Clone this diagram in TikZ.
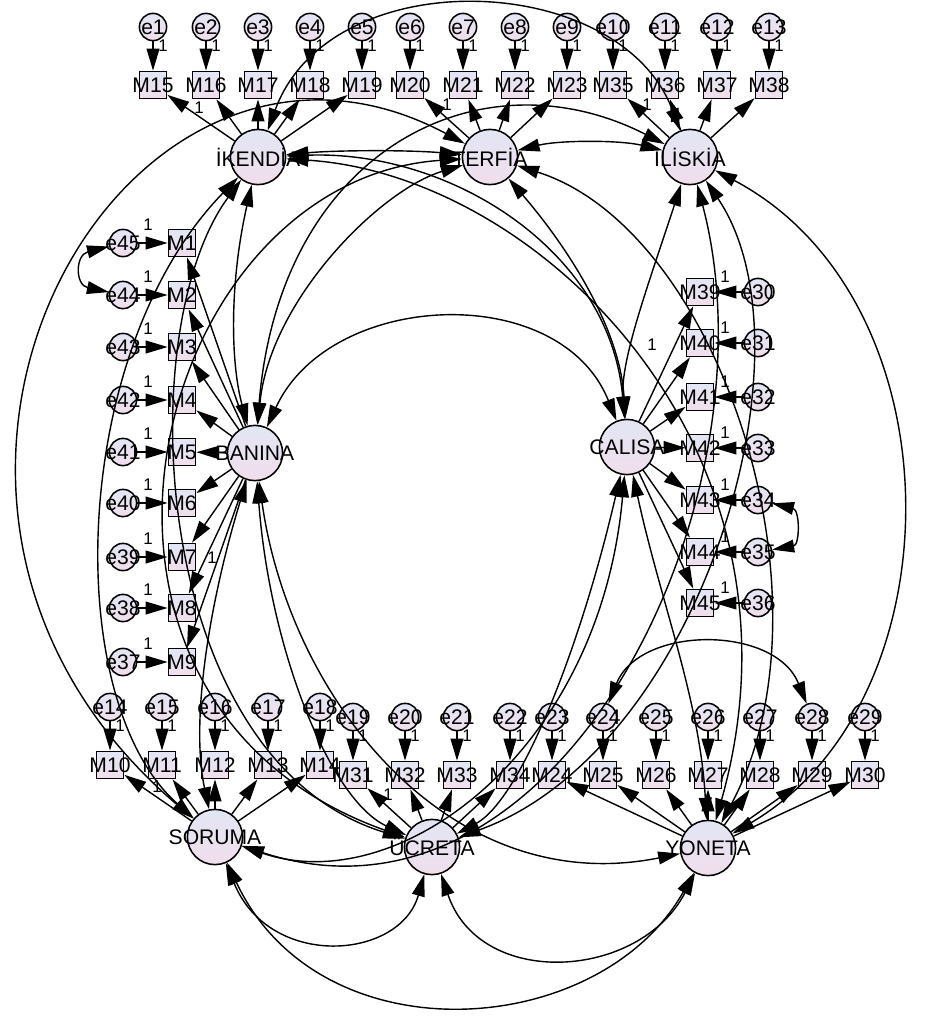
\documentclass[tikz,border=0pt]{standalone}
\usepackage{fontspec}
\setmainfont{Liberation Sans}
\usetikzlibrary{arrows.meta}
\definecolor{lavtop}{RGB}{226,230,244}
\definecolor{lavbot}{RGB}{241,222,236}
\tikzset{
  lat/.style={circle,draw,line width=1.1pt,minimum size=1.38cm,inner sep=0pt,top color=lavtop,bottom color=lavbot},
  err/.style={circle,draw,line width=1.1pt,minimum size=0.68cm,inner sep=0pt,top color=lavtop,bottom color=lavbot},
  obs/.style={rectangle,draw,line width=1.1pt,minimum size=0.68cm,inner sep=0pt,top color=lavtop,bottom color=lavbot},
  cov/.style={<->,line width=1pt},
  one/.style={font=\fontsize{12}{12}\selectfont,inner sep=0pt},
  every label/.style={font=\fontsize{15}{15}\selectfont,inner sep=0pt},
}

\begin{document}
\begin{tikzpicture}[x=0.025cm,y=-0.025cm,>={Triangle[length=0.55cm,width=0.32cm]},line width=1pt]
\useasboundingbox (0,0) rectangle (933,1021);
\node[lat,label=center:İKENDİA] (K) at (258,157) {};
\node[lat,label=center:TERFİA] (T) at (490,157) {};
\node[lat,label=center:İLİSKİA] (L) at (690,157) {};
\node[lat,label=center:BANINA] (B) at (255,453) {};
\node[lat,label=center:CALISA] (C) at (627,447) {};
\node[lat,label=center:SORUMA] (S) at (215,837) {};
\node[lat,label=center:ÜCRETA] (U) at (432,847) {};
\node[lat,label=center:YONETA] (Y) at (708,848) {};
\foreach \e/\m/\x in {1/15/153,2/16/206,3/17/258,4/18/310,5/19/362,6/20/410,7/21/463,8/22/515,9/23/567,10/35/613,11/36/665,12/37/717,13/38/769} {
  \node[err,label=center:e\e] (e\e) at (\x,27) {};
  \node[obs,label=center:M\m] (M\m) at (\x,85) {};
  \draw[->] (e\e) -- (M\m);
  \node[one] at (\x+10,46) {1};
}
\foreach \e/\m/\y in {45/1/243,44/2/295,43/3/347,42/4/400,41/5/452,40/6/503,39/7/557,38/8/608,37/9/662} {
  \node[err,label=center:e\e] (e\e) at (123,\y) {};
  \node[obs,label=center:M\m] (M\m) at (182,\y) {};
  \draw[->] (e\e) -- (M\m);
  \node[one] at (148,\y-18) {1};
}
\foreach \e/\m/\y in {30/39/292,31/40/343,32/41/397,33/42/448,34/43/500,35/44/552,36/45/603} {
  \node[err,label=center:e\e] (e\e) at (758,\y) {};
  \node[obs,label=center:M\m] (M\m) at (700,\y) {};
  \draw[->] (e\e) -- (M\m);
  \node[one] at (725,\y-15) {1};
}
\foreach \e/\m/\x in {14/10/110,15/11/162,16/12/215,17/13/268,18/14/320} {
  \node[err,label=center:e\e] (e\e) at (\x,707) {};
  \node[obs,label=center:M\m] (M\m) at (\x,765) {};
  \draw[->] (e\e) -- (M\m);
  \node[one] at (\x+10,726) {1};
}
\foreach \e/\m/\x in {19/31/353,20/32/405,21/33/457,22/34/510,23/24/552,24/25/603,25/26/656,26/27/708,27/28/760,28/29/812,29/30/865} {
  \node[err,label=center:e\e] (e\e) at (\x,717) {};
  \node[obs,label=center:M\m] (M\m) at (\x,775) {};
  \draw[->] (e\e) -- (M\m);
  \node[one] at (\x+10,736) {1};
}
\foreach \m in {15,...,19} \draw[->] (K) -- (M\m);
\foreach \m in {20,...,23} \draw[->] (T) -- (M\m);
\foreach \m in {35,...,38} \draw[->] (L) -- (M\m);
\foreach \m in {1,...,9} \draw[->] (B) -- (M\m);
\foreach \m in {39,...,45} \draw[->] (C) -- (M\m);
\foreach \m in {10,...,14} \draw[->] (S) -- (M\m);
\foreach \m in {31,...,34} \draw[->] (U) -- (M\m);
\foreach \m in {24,...,30} \draw[->] (Y) -- (M\m);
\node[one] at (199,108) {1};
\node[one] at (447,105) {1};
\node[one] at (647,105) {1};
\node[one] at (212,558) {1};
\node[one] at (652,345) {1};
\node[one] at (157,787) {1};
\node[one] at (388,795) {1};
\draw[cov] (K) .. controls (340,150) and (410,150) .. (T);
\draw[cov] (K) .. controls (330,-40) and (620,-30) .. (L);
\draw[cov] (K) .. controls (230,280) and (230,360) .. (B);
\draw[cov] (K) .. controls (450,150) and (610,250) .. (C);
\draw[cov] (K) .. controls (70,350) and (60,700) .. (S);
\draw[cov] (K) .. controls (130,330) and (150,760) .. (U);
\draw[cov] (K) .. controls (540,175) and (820,450) .. (Y);
\draw[cov] (T) .. controls (560,140) and (620,140) .. (L);
\draw[cov] (T) .. controls (380,190) and (270,300) .. (B);
\draw[cov] (T) .. controls (570,250) and (620,330) .. (C);
\draw[cov] (T) .. controls (120,-40) and (-180,500) .. (S);
\draw[cov] (T) .. controls (150,180) and (20,700) .. (U);
\draw[cov] (T) .. controls (720,230) and (840,600) .. (Y);
\draw[cov] (L) .. controls (480,50) and (280,150) .. (B);
\draw[cov] (L) .. controls (650,280) and (620,360) .. (C);
\draw[cov] (L) .. controls (780,500) and (560,950) .. (S);
\draw[cov] (L) .. controls (820,350) and (700,750) .. (U);
\draw[cov] (L) .. controls (960,300) and (960,700) .. (Y);
\draw[cov] (B) .. controls (330,290) and (560,280) .. (C);
\draw[cov] (B) .. controls (210,600) and (190,720) .. (S);
\draw[cov] (B) .. controls (270,650) and (330,800) .. (U);
\draw[cov] (B) .. controls (290,700) and (450,900) .. (Y);
\draw[cov] (C) .. controls (600,750) and (400,900) .. (S);
\draw[cov] (C) .. controls (580,650) and (520,800) .. (U);
\draw[cov] (C) .. controls (660,600) and (700,700) .. (Y);
\draw[cov] (S) .. controls (270,970) and (400,960) .. (U);
\draw[cov] (S) .. controls (320,1060) and (600,1040) .. (Y);
\draw[cov] (U) .. controls (480,990) and (640,980) .. (Y);
\draw[cov] (e45) .. controls (75,255) and (75,285) .. (e44);
\draw[cov] (e34) .. controls (800,510) and (800,545) .. (e35);
\draw[cov] (e24) .. controls (640,625) and (775,625) .. (e28);
\end{tikzpicture}
\end{document}
